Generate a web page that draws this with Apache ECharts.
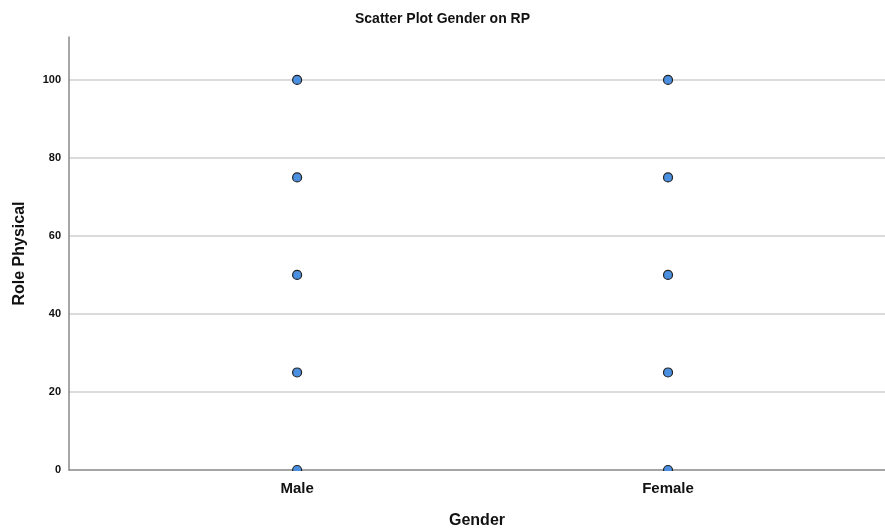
<!DOCTYPE html>
<html><head><meta charset="utf-8">
<script src="https://cdn.jsdelivr.net/npm/echarts@6/dist/echarts.min.js"></script>
<style>html,body{margin:0;padding:0;background:#fff}#c{width:885px;height:531px}</style>
</head><body><div id="c"></div>
<script>
var categories = ["Male", "Female"];
var categoryCodes = [1, 2];
var maleRP = [0, 25, 50, 75, 100];
var femaleRP = [0, 25, 50, 75, 100];
var yTicks = [0, 20, 40, 60, 80, 100];

var seriesValues = [maleRP, femaleRP];
var data = [];
seriesValues.forEach(function (vals, i) {
  vals.forEach(function (v) { data.push([categoryCodes[i], v]); });
});

var chart = echarts.init(document.getElementById('c'));
var font = 'Liberation Sans, Arial, sans-serif';
chart.setOption({
  animation: false,
  title: {
    text: 'Scatter Plot Gender on RP', left: 'center', top: 7,
    textStyle: { fontFamily: font, fontSize: 14, fontWeight: 'bold', color: '#111' }
  },
  grid: { left: 69, right: 0, top: 37, bottom: 61, outerBoundsMode: 'none', containLabel: false },
  xAxis: {
    type: 'value', min: 0.385, max: 2.585,
    name: 'Gender', nameLocation: 'middle', nameGap: 43,
    nameTextStyle: { fontFamily: font, fontSize: 16, fontWeight: 'bold', color: '#111' },
    axisLine: { show: true, lineStyle: { color: '#888', width: 1.5 } },
    axisTick: { show: false },
    splitLine: { show: false },
    axisLabel: {
      customValues: categoryCodes, margin: 11,
      fontFamily: font, fontSize: 15, fontWeight: 'bold', color: '#111',
      formatter: function (v) { var i = categoryCodes.indexOf(v); return i >= 0 ? categories[i] : ''; }
    }
  },
  yAxis: {
    type: 'value', min: 0, max: 111,
    name: 'Role Physical', nameLocation: 'middle', nameGap: 41,
    nameTextStyle: { fontFamily: font, fontSize: 16, fontWeight: 'bold', color: '#111' },
    axisLine: { show: true, lineStyle: { color: '#888', width: 1.5 } },
    axisTick: { show: false },
    splitLine: { show: true, showMinLine: false, showMaxLine: false, lineStyle: { color: '#cfcfcf', width: 1.5 } },
    axisLabel: {
      customValues: yTicks, margin: 8,
      fontFamily: font, fontSize: 11, fontWeight: 'bold', color: '#111'
    }
  },
  series: [{
    type: 'scatter', data: data, symbol: 'circle', symbolSize: 9, z: 1,
    itemStyle: { color: '#4a8fe0', borderColor: '#222', borderWidth: 1.2, opacity: 1 }
  }],
  graphic: [{
    type: 'rect', z: 100, silent: true,
    shape: { x: 60, y: 471, width: 825, height: 8 },
    style: { fill: '#fff' }
  }]
});
</script></body></html>
